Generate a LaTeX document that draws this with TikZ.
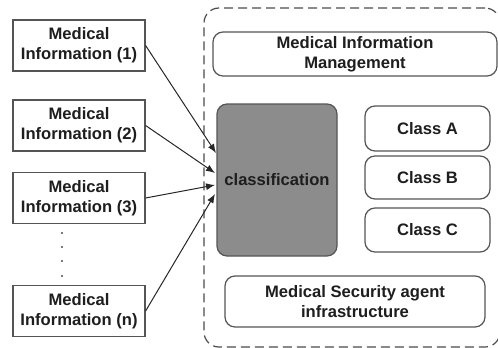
\documentclass[tikz,border=0pt]{standalone}
\usepackage{fontspec}
\setmainfont{Liberation Sans}
\usepackage{tikz}
\usetikzlibrary{arrows.meta}
\usetikzlibrary{positioning}
\definecolor{boxline}{RGB}{85,85,85}
\definecolor{clsfill}{RGB}{140,140,140}
\definecolor{txt}{RGB}{30,30,30}

\begin{document}
\begin{tikzpicture}[x=1pt, y=-1pt, every node/.style={font=\fontsize{16.6}{20}\selectfont\bfseries, text=txt, align=center}]
				\tikzstyle{infonode}=[draw=boxline, line width=1.2pt, minimum width=132pt, minimum height=51pt, inner sep=0pt, fill=white]
				\tikzstyle{partnode}=[draw=boxline, line width=1.2pt, rounded corners=10pt, inner sep=0pt, fill=white]
				\tikzstyle{clsnode}=[draw=boxline, line width=1.2pt, rounded corners=10pt, minimum width=120pt, minimum height=152pt, inner sep=0pt, fill=clsfill]
				\tikzstyle{inarrow}=[-{Latex[length=9pt,width=7pt]}, line width=1pt, black!85]
				
				\useasboundingbox (0,0) rectangle (498,348);
				
				\node (frame) at (352,177.5) [draw=black!70, dash pattern=on 9pt off 5pt, line width=1.2pt, rounded corners=15pt, minimum width=296pt, minimum height=339pt] {};
				
				\node (t1) at (79,45.5) [infonode] {Medical\\Information (1)};
				\node (t2) at (79,125.5) [infonode] {Medical\\Information (2)};
				\node (t3) at (79,198) [infonode] {Medical\\Information (3)};
				\node (tn) at (79,311) [infonode] {Medical\\Information (n)};
				\foreach \dy in {233,247,261,276}
					\fill[black!70] (62,\dy) circle (1.1pt);
				
				\node (mim) at (355,54) [partnode, minimum width=284pt, minimum height=44pt] {Medical Information\\Management};
				\node (cls) at (277,180) [clsnode] {classification};
				\node (ca) at (427.5,128.5) [partnode, minimum width=125pt, minimum height=45pt] {Class A};
				\node (cb) at (427.5,177.5) [partnode, minimum width=125pt, minimum height=43pt] {Class B};
				\node (cc) at (427.5,230) [partnode, minimum width=125pt, minimum height=44pt] {Class C};
				\node (msa) at (355,301.5) [partnode, minimum width=260pt, minimum height=51pt] {Medical Security agent\\infrastructure};
				
				\coordinate (e1) at (216,153);
				\coordinate (e2) at (215,173);
				\coordinate (e3) at (215,185);
				\coordinate (en) at (215,194);
				\draw [inarrow] (t1.east) -- (e1);
				\draw [inarrow] (t2.east) -- (e2);
				\draw [inarrow] (t3.east) -- (e3);
				\draw [inarrow] (tn.east) -- (en);
				\end{tikzpicture}
\end{document}
